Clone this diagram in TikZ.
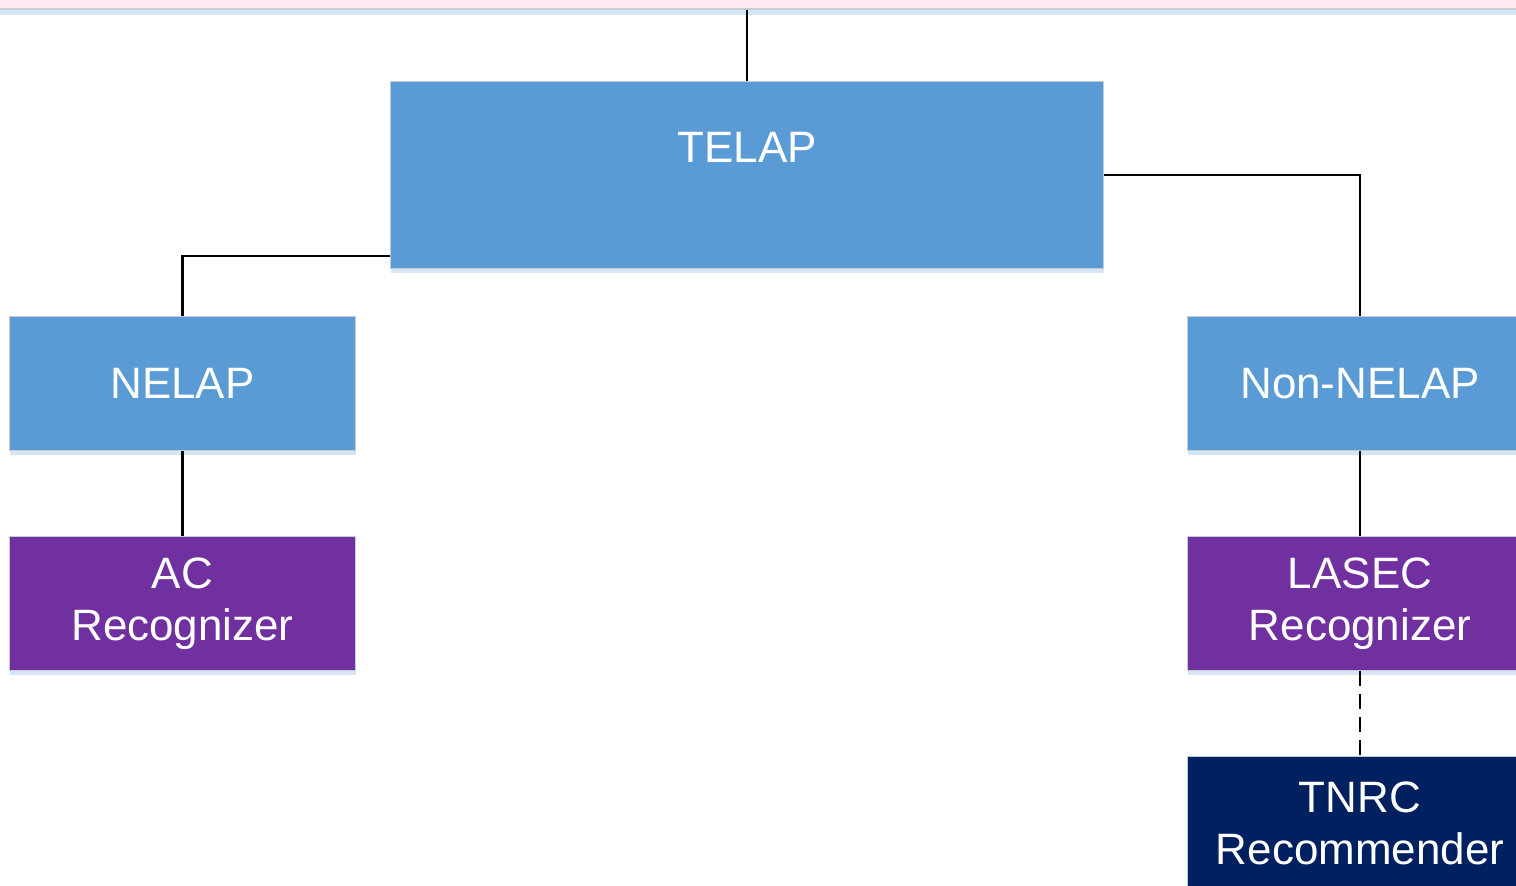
\documentclass[tikz,border=0pt]{standalone}
\usepackage{fontspec}
\setmainfont{Liberation Sans}
\definecolor{boxblue}{HTML}{5B9BD5}
\definecolor{boxpurple}{HTML}{7030A0}
\definecolor{boxnavy}{HTML}{002060}
\definecolor{shadowblue}{HTML}{D6E5F3}
\definecolor{stripink}{HTML}{FDEBF1}
\definecolor{edgegrey}{HTML}{C4CCD4}
\begin{document}
\begin{tikzpicture}[x=0.01cm,y=-0.01cm,
  orgbox/.style={draw=edgegrey,line width=0.3pt,text=white,align=center,
    font=\fontsize{12.5}{14.8}\selectfont,inner sep=0pt},
  link/.style={draw=black,line width=0.6pt},
  dashlink/.style={link,dash pattern=on 0.15cm off 0.08cm}]
\useasboundingbox (0,0) rectangle (1516,886);
\clip (0,0) rectangle (1516,886);
\fill[white] (0,0) rectangle (1516,886);
\fill[stripink] (0,0) rectangle (1516,9);
\fill[shadowblue] (0,9) rectangle (1516,15);
\draw[edgegrey,line width=0.3pt] (0,9) -- (1516,9);
% shadows
\fill[shadowblue] (391,268) rectangle (1104,273);
\fill[shadowblue] (10,450) rectangle (356,455);
\fill[shadowblue] (1188,450) rectangle (1532,455);
\fill[shadowblue] (10,670) rectangle (356,675);
\fill[shadowblue] (1188,670) rectangle (1532,675);
% boxes
\node[orgbox,fill=boxblue,minimum width=7.12cm,minimum height=1.86cm] (telap) at (747,175) {};
\node[text=white,font=\fontsize{12.5}{14.8}\selectfont] (telaplabel) at (747,147) {TELAP};
\node[orgbox,fill=boxblue,minimum width=3.45cm,minimum height=1.33cm] (nelap) at (182.5,383.5) {NELAP};
\node[orgbox,fill=boxblue,minimum width=3.44cm,minimum height=1.33cm] (nonnelap) at (1360,383.5) {Non-NELAP};
\node[orgbox,fill=boxpurple,minimum width=3.45cm,minimum height=1.33cm] (ac) at (182.5,603.5) {AC\\Recognizer};
\node[orgbox,fill=boxpurple,minimum width=3.44cm,minimum height=1.33cm] (lasec) at (1360,603.5) {LASEC\\Recognizer};
\node[orgbox,fill=boxnavy,minimum width=3.44cm,minimum height=1.33cm] (tnrc) at (1360,823.5) {TNRC\\Recommender};
% connectors
\coordinate (topend) at (747,10);
\draw[link] (topend) -- (telap.north);
\draw[link] ([yshift=0.13cm]telap.south west) -| (nelap.north);
\draw[link] (telap.east) -| (nonnelap.north);
\draw[link] (nelap.south) -- (ac.north);
\draw[link] (nonnelap.south) -- (lasec.north);
\draw[dashlink] (lasec.south) -- (tnrc.north);
\end{tikzpicture}
\end{document}
